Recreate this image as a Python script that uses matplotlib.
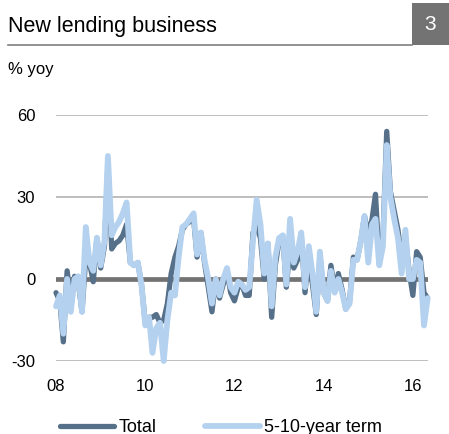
import matplotlib
matplotlib.use("Agg")
import matplotlib.pyplot as plt
import matplotlib.dates as mdates
from matplotlib.patches import Rectangle
from matplotlib.lines import Line2D
import pandas as pd

plt.rcParams['font.family'] = ['Liberation Sans', 'DejaVu Sans']
plt.rcParams['axes.unicode_minus'] = False

# Monthly data, Jan 2008 - May 2016, % yoy
months = pd.date_range("2008-01-01", "2016-05-01", freq="MS")

total = [
    -5, -8, -23, 3, -8, 1, -1, -12, 8, 6,
    -1, 15, 4, 12, 42, 11, 13, 14, 16, 20,
    6, 5, 6, -2, -16, -14, -14, -13, -16, -15,
    -9, 2, 8, 12, 18, 20, 21, 22, 8, 17,
    6, -3, -12, 0, -7, -2, 3, -5, -8, -3,
    -2, -6, -6, 17, 19, 15, 0, 13, -14, 5,
    14, 15, -3, 12, 4, 7, 16, -5, 10, -2,
    -13, 8, -5, -8, 5, -4, 2, -4, -11, -8,
    8, 7, 14, 23, 16, 22, 31, 6, 15, 54,
    32, 25, 18, 8, 15, 3, -6, 10, 8, -5,
    -7,
]

term_5_10 = [
    -10, -6, -20, 0, -12, 0, 1, -12, 19, 6,
    3, 15, 5, 14, 45, 16, 19, 21, 24, 28,
    6, 5, 6, -2, -17, -14, -27, -18, -16, -30,
    -15, -5, -6, 8, 19, 20, 22, 24, 9, 17,
    7, 0, -9, 0, -6, 0, 4, -3, -5, -1,
    -2, -4, -3, 14, 29, 20, 2, 13, -10, 8,
    15, 16, -2, 22, 6, 10, 17, -3, 12, 2,
    -12, 10, -5, -8, 3, -5, 0, -5, -11, -9,
    7, 7, 14, 23, 6, 20, 22, 5, 12, 49,
    30, 22, 15, 2, 18, 0, 0, 7, 6, -17,
    -7,
]

y_ticks = [-30, 0, 30, 60]
x_tick_years = [2008, 2010, 2012, 2014, 2016]

TOTAL_COLOR = "#56708a"
TERM_COLOR = "#b4d2ef"

W, H = 449, 434
fig = plt.figure(figsize=(W / 100, H / 100), dpi=100)

# Axes placed in pixel terms
left, right, top, bottom = 56, 428, 115, 361
ax = fig.add_axes([left / W, 1 - bottom / H, (right - left) / W, (bottom - top) / H])

for y in [60, 30, -30]:
    ax.axhline(y, color="#b3b3b3", lw=1.2, zorder=1)
ax.axhline(0, color="#737373", lw=3.4, zorder=2)

ax.plot(months, total, color=TOTAL_COLOR, lw=3.8, solid_joinstyle="round",
        solid_capstyle="round", zorder=3, clip_on=False, label="Total")
ax.plot(months, term_5_10, color=TERM_COLOR, lw=4.2, solid_joinstyle="round",
        solid_capstyle="round", zorder=4, clip_on=False, label="5-10-year term")

ax.set_ylim(-30, 60)
ax.set_yticks(y_ticks)
ax.set_xlim(pd.Timestamp("2008-01-01"), pd.Timestamp("2016-05-04"))
ax.set_xticks([pd.Timestamp(f"{y}-01-01") for y in x_tick_years])
ax.xaxis.set_major_formatter(mdates.DateFormatter("%y"))
ax.tick_params(length=0, labelsize=12, colors="black")
ax.tick_params(axis="y", pad=15)
ax.tick_params(axis="x", pad=13)
for s in ax.spines.values():
    s.set_visible(False)

# Header
fig.text(8 / W, 1 - 32 / H, "New lending business", fontsize=15.5, va="baseline", ha="left")
fig.add_artist(Line2D([8 / W, 412 / W], [1 - 45 / H, 1 - 45 / H], color="#7f7f7f", lw=1.2))
fig.add_artist(Rectangle((412 / W, 1 - 45 / H), 37 / W, 42 / H, color="#737373", lw=0))
fig.text(430 / W, 1 - 24 / H, "3", color="white", fontsize=15, ha="center", va="center")
fig.text(8 / W, 1 - 74 / H, "% yoy", fontsize=12, va="baseline", ha="left")

# Legend at bottom, partly cut off as in the source
fig.legend(loc="center left", bbox_to_anchor=(60 / W, 1 - 428 / H), ncol=2, frameon=False,
           fontsize=13, handlelength=3.0, handletextpad=0.25, columnspacing=2.7,
           borderpad=0, borderaxespad=0)

fig.savefig("out.png", dpi=100)
